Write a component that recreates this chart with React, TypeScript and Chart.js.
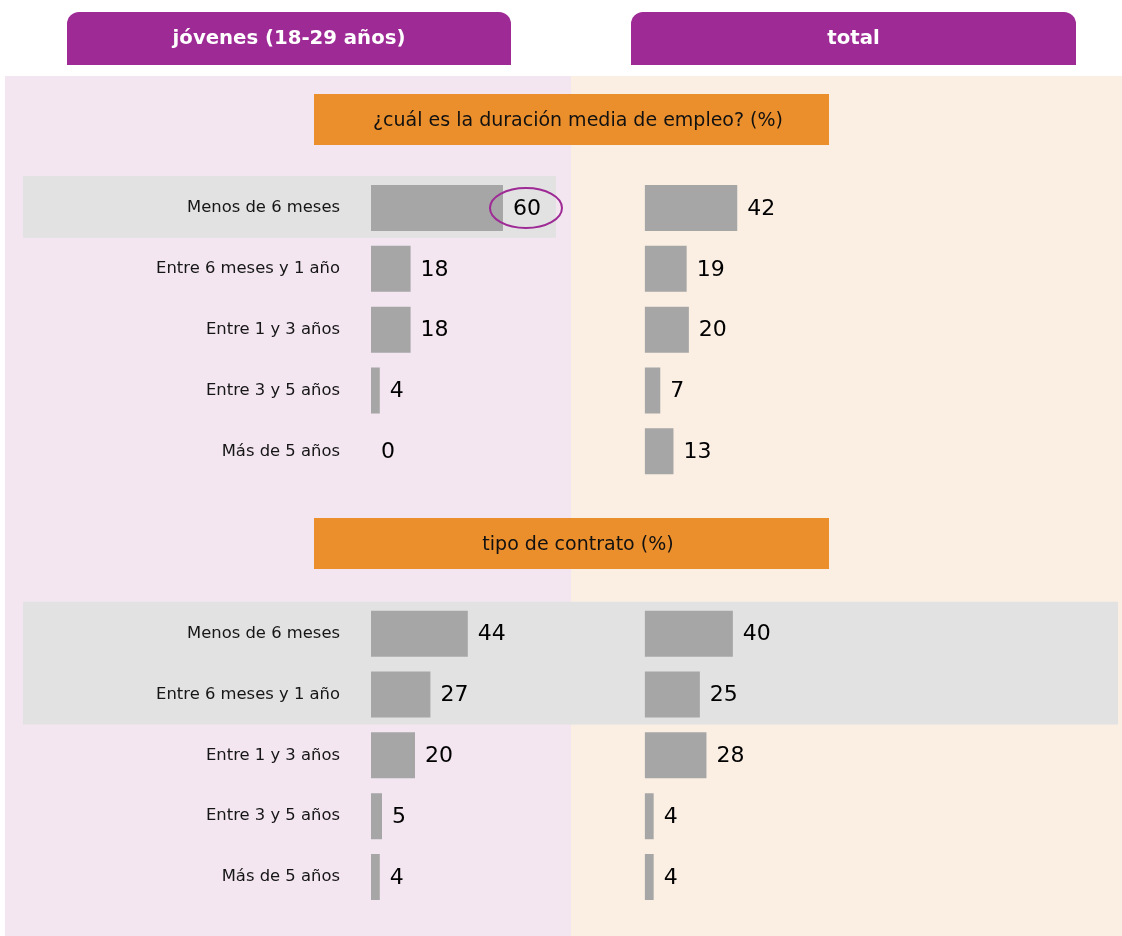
import React, { useEffect, useRef } from 'react';
import { Chart, registerables } from 'chart.js';

Chart.register(...registerables);

const categories = ['Menos de 6 meses', 'Entre 6 meses y 1 año', 'Entre 1 y 3 años', 'Entre 3 y 5 años', 'Más de 5 años'];
const durationYouth = [60, 18, 18, 4, 0];
const durationTotal = [42, 19, 20, 7, 13];
const contractYouth = [44, 27, 20, 5, 4];
const contractTotal = [40, 25, 28, 4, 4];
const groupTitles = ['jóvenes (18-29 años)', 'total'];
const sectionTitles = ['¿cuál es la duración media de empleo? (%)', 'tipo de contrato (%)'];

const PURPLE = '#9e2a96';
const PINK = '#f3e6f1';
const PEACH = '#fbefe4';
const ORANGE = '#eb8f2c';
const BAR = '#a6a6a6';
const HILITE = '#e2e2e2';
const FONT = '"DejaVu Sans", Verdana, sans-serif';

const rowLabels = [...categories, '', '', ...categories];
const youthRows = [...durationYouth, null, null, ...contractYouth];
const totalRows = [...durationTotal, null, null, ...contractTotal];

const decorPlugin = {
  id: 'decor',
  beforeDraw(chart: any) {
    const ctx = chart.ctx;
    const y = chart.scales.y;
    ctx.save();
    // panels
    ctx.fillStyle = PINK;
    ctx.fillRect(5, 76, 566, 860);
    ctx.fillStyle = PEACH;
    ctx.fillRect(571, 76, 551, 860);
    // tabs
    const tabs = [[67, 511], [631, 1076]];
    tabs.forEach(([x0, x1], i) => {
      ctx.fillStyle = PURPLE;
      ctx.beginPath();
      (ctx as any).roundRect(x0, 12, x1 - x0, 53, [12, 12, 0, 0]);
      ctx.fill();
      ctx.fillStyle = '#ffffff';
      ctx.font = `bold 19.7px ${FONT}`;
      ctx.textAlign = 'center';
      ctx.textBaseline = 'middle';
      ctx.fillText(groupTitles[i], (x0 + x1) / 2, 39);
    });
    // section banners
    const bannerYs = [94, 518];
    bannerYs.forEach((by, i) => {
      ctx.fillStyle = ORANGE;
      ctx.fillRect(314, by, 515, 51);
      ctx.fillStyle = '#111111';
      ctx.font = `19px ${FONT}`;
      ctx.textAlign = 'center';
      ctx.textBaseline = 'middle';
      ctx.fillText(sectionTitles[i], 578, by + 27);
    });
    // highlighted rows
    ctx.fillStyle = HILITE;
    const r0 = y.getPixelForValue(0);
    const r1 = y.getPixelForValue(1);
    ctx.fillRect(23, r0 - 32, 533, r1 - r0 + 1);
    const r7 = y.getPixelForValue(7);
    const r8 = y.getPixelForValue(8);
    ctx.fillRect(23, r7 - 32, 1095, r8 - r7 + 62);
    ctx.restore();
  },
  afterDatasetsDraw(chart: any) {
    const ctx = chart.ctx;
    ctx.save();
    ctx.font = `22px ${FONT}`;
    ctx.fillStyle = '#000000';
    ctx.textAlign = 'left';
    ctx.textBaseline = 'middle';
    chart.data.datasets.forEach((ds: any, di: number) => {
      const meta = chart.getDatasetMeta(di);
      meta.data.forEach((bar: any, i: number) => {
        const v = ds.data[i];
        if (v === null || v === undefined) return;
        const tx = bar.x + 10;
        ctx.fillText(String(v), tx, bar.y + 1);
        if (di === 0 && i === 0) {
          const w = ctx.measureText(String(v)).width;
          ctx.strokeStyle = PURPLE;
          ctx.lineWidth = 2;
          ctx.beginPath();
          ctx.ellipse(tx + w / 2 - 1, bar.y, 36, 20, 0, 0, Math.PI * 2);
          ctx.stroke();
        }
      });
    });
    ctx.restore();
  },
};

export default function App() {
  const ref = useRef<HTMLCanvasElement>(null);
  useEffect(() => {
    if (!ref.current) return;
    const chart = new Chart(ref.current, {
      type: 'bar',
      data: {
        labels: rowLabels,
        datasets: [
          { label: groupTitles[0], data: youthRows, xAxisID: 'xL', backgroundColor: BAR, barThickness: 46, borderWidth: 0, grouped: false, inflateAmount: 0 },
          { label: groupTitles[1], data: totalRows, xAxisID: 'xR', backgroundColor: BAR, barThickness: 46, borderWidth: 0, grouped: false, inflateAmount: 0 },
        ],
      },
      options: {
        indexAxis: 'y',
        responsive: false,
        animation: false,
        devicePixelRatio: 1,
        layout: { padding: { left: 0, right: 22, top: 177.6, bottom: 28.6 } },
        plugins: { legend: { display: false }, tooltip: { enabled: false } },
        scales: {
          xL: { type: 'linear', position: 'bottom', display: false, min: 0, max: 331.4 },
          xR: { type: 'linear', position: 'bottom', display: false, min: -124.5, max: 206.9 },
          y: {
            type: 'category',
            grid: { display: false, drawTicks: false },
            border: { display: false },
            ticks: { padding: 31, color: '#161616', font: { family: FONT, size: 16.4 }, autoSkip: false },
            afterFit: (s: any) => { s.width = 371; s.paddingTop = 0; s.paddingBottom = 0; },
          },
        },
      },
      plugins: [decorPlugin],
    });
    return () => chart.destroy();
  }, []);
  return (
    <div style={{ position: 'absolute', left: 0, top: 0, width: 1122, height: 936 }}>
      <canvas ref={ref} width={1122} height={936} />
    </div>
  );
}
